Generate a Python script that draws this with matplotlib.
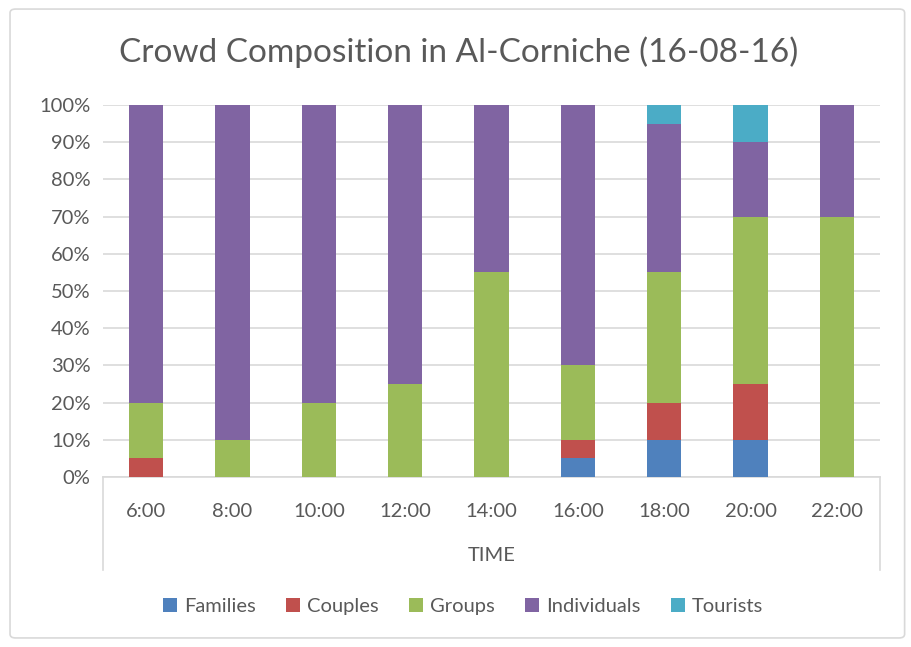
import matplotlib
matplotlib.use("Agg")
import matplotlib.pyplot as plt
from matplotlib.patches import FancyBboxPatch
import numpy as np

plt.rcParams['font.family'] = ['Lato', 'DejaVu Sans']

times = ['6:00', '8:00', '10:00', '12:00', '14:00', '16:00', '18:00', '20:00', '22:00']
families = [0, 0, 0, 0, 0, 5, 10, 10, 0]
couples = [5, 0, 0, 0, 0, 5, 10, 15, 0]
groups = [15, 10, 20, 25, 55, 20, 35, 45, 70]
individuals = [80, 90, 80, 75, 45, 70, 40, 20, 30]
tourists = [0, 0, 0, 0, 0, 0, 5, 10, 0]

series = [('Families', families, '#4F81BD'),
          ('Couples', couples, '#C0504D'),
          ('Groups', groups, '#9BBB59'),
          ('Individuals', individuals, '#8064A2'),
          ('Tourists', tourists, '#4BACC6')]

txt = '#595959'
grid = '#D9D9D9'

fig = plt.figure(figsize=(9.11, 6.47), dpi=100)
ax = fig.add_axes([0.113, 0.2628, 0.853, 0.5749])

# outer chart border
fig.patches.append(FancyBboxPatch((0.011, 0.014), 0.982, 0.972,
                                  boxstyle="round,pad=0,rounding_size=0.006",
                                  transform=fig.transFigure, fill=False,
                                  edgecolor=grid, linewidth=1.2))

x = np.arange(len(times))
totals = (np.array(families) + np.array(couples) + np.array(groups)
          + np.array(individuals) + np.array(tourists))
bottom = np.zeros(len(times))
for name, vals, col in series:
    frac = np.array(vals, dtype=float) / totals
    ax.bar(x, frac, 0.4, bottom=bottom, color=col, label=name, zorder=3)
    bottom += frac

ax.set_xlim(-0.5, len(times) - 0.5)
ax.set_ylim(0, 1)
ticks = np.arange(0, 1.01, 0.1)
ax.set_yticks(ticks)
ax.set_yticklabels(['%d%%' % round(t * 100) for t in ticks])
ax.yaxis.grid(True, color=grid, linewidth=1.2, zorder=0)
ax.set_xticks(x)
ax.set_xticklabels(times)
ax.tick_params(axis='both', length=0, labelsize=14.5, colors=txt)
ax.tick_params(axis='x', pad=19)
ax.tick_params(axis='y', pad=9)
for s in ['top', 'right', 'left']:
    ax.spines[s].set_visible(False)
ax.spines['bottom'].set_color(grid)
ax.spines['bottom'].set_linewidth(1.2)

# category axis box
for xa in (0, 1):
    ax.plot([xa, xa], [0, -0.25], transform=ax.transAxes, color=grid,
            linewidth=1.2, clip_on=False)
ax.text(0.5, -0.21, 'TIME', transform=ax.transAxes, ha='center', va='center',
        fontsize=14.5, color=txt)

fig.text(0.503, 0.919, 'Crowd Composition in Al-Corniche (16-08-16)',
         ha='center', va='center', fontsize=24, color=txt)

leg = fig.legend(loc='center', bbox_to_anchor=(0.508, 0.062), ncol=5,
                 frameon=False, fontsize=14.5, handlelength=0.7, handleheight=0.7,
                 handletextpad=0.35, columnspacing=1.5)
for t in leg.get_texts():
    t.set_color(txt)

fig.savefig('out.png', dpi=100)
